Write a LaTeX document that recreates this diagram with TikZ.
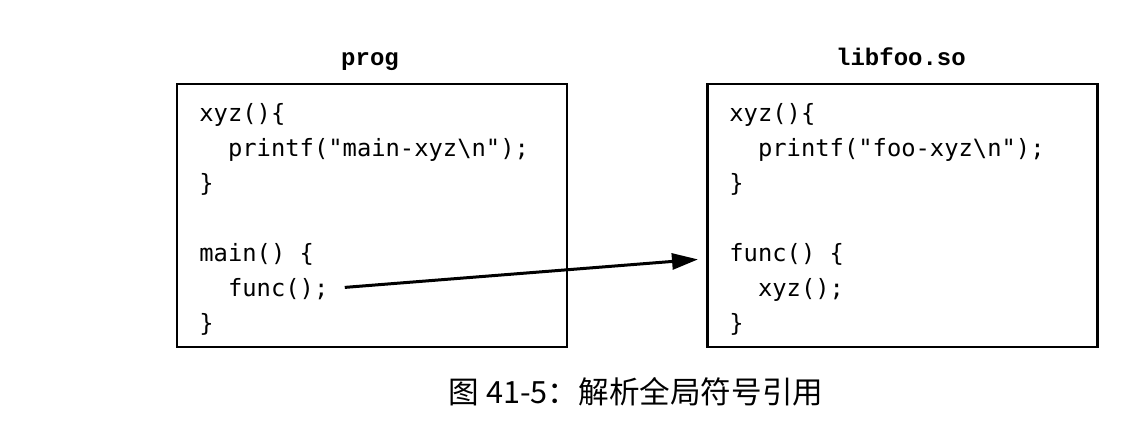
\documentclass[tikz,border=0pt]{standalone}
\usepackage{fontspec}
\newfontfamily\codefont{DejaVu Sans Mono}
\newfontfamily\labelfont{Liberation Mono}
\newfontfamily\cjk{Noto Sans CJK SC}
\usepackage{tikz}
\usetikzlibrary{matrix, positioning, arrows.meta}

\tikzset{
  box/.style={draw, line width=1.2pt, inner sep=0pt,
              minimum width=195pt, minimum height=131.5pt},
  title/.style={font=\labelfont\bfseries\fontsize{12}{14}\selectfont, anchor=base},
  codeline/.style={font=\codefont\fontsize{11.9}{13}\selectfont, anchor=base west,
                   inner sep=0pt, text height=9pt, text depth=3pt},
  call/.style={line width=1.5pt, -{Triangle[length=13pt, width=8pt]}}
}

\begin{document}
\begin{tikzpicture}[x=0.5pt, y=-0.5pt]
\useasboundingbox (0,0) rectangle (1146,434);

% the two boxes
\node[box] (prog)   at (372,215.5) {};
\node[box] (libfoo) at (902.5,215.5) {};
\node[title] (progname) at (370,65) {prog};
\node[title] (libname)  at (901,65) {libfoo.so};

%
\matrix (progcode) [matrix of nodes, inner sep=0pt, anchor=north west,
                    row sep=5.5pt, nodes={codeline}] at (199,103)
{
xyz()\{ \\
\phantom{xx}printf("main-xyz\textbackslash n"); \\
\} \\[17.5pt]
main() \{ \\
|(pcall)| \phantom{xx}func(); \\
\} \\
};

\matrix (foocode) [matrix of nodes, inner sep=0pt, anchor=north west,
                   row sep=5.5pt, nodes={codeline}] at (729,103)
{
xyz()\{ \\
\phantom{xx}printf("foo-xyz\textbackslash n"); \\
\} \\[17.5pt]
|(ffunc)| func() \{ \\
\phantom{xx}xyz(); \\
\} \\
};

\draw[call] ([shift={(16,-3)}]pcall.east) -- ([shift={(-31,4)}]ffunc.west);

\node[font=\cjk\fontsize{15.3}{17}\selectfont, anchor=base] (caption) at (636,403)
  {图 41-5：解析全局符号引用};
%
\end{tikzpicture}
\end{document}
